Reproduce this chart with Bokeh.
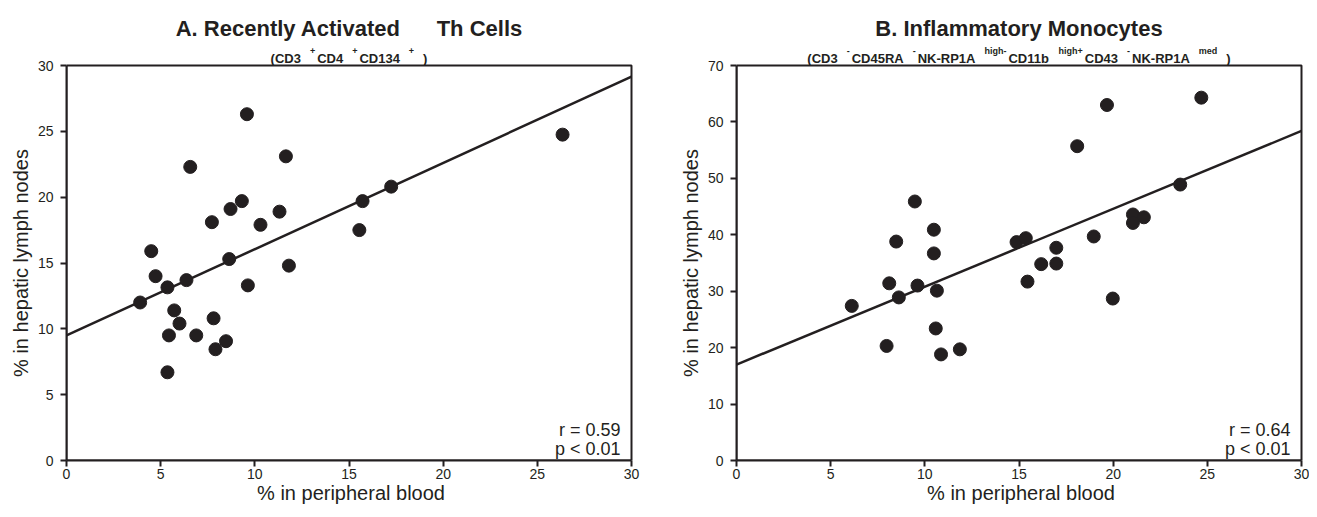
from bokeh.plotting import figure
from bokeh.layouts import row
from bokeh.models import Range1d, FixedTicker, Label, Title
from bokeh.core.properties import value
from bokeh.embed import file_html
from bokeh.resources import INLINE

# ---------------- data ----------------
a_x = [9.58, 11.65, 6.57, 9.31, 8.71, 11.31, 7.72, 10.30, 4.50, 8.64, 11.81, 4.73, 6.37, 5.36,
       9.63, 3.91, 5.72, 6.00, 7.81, 5.44, 6.89, 8.47, 7.91, 5.36, 15.55, 15.72, 17.24, 26.34]
a_y = [26.3, 23.1, 22.3, 19.7, 19.1, 18.9, 18.1, 17.9, 15.9, 15.3, 14.8, 14.0, 13.7, 13.15,
       13.3, 12.0, 11.4, 10.4, 10.8, 9.5, 9.5, 9.06, 8.45, 6.7, 17.5, 19.7, 20.8, 24.75]

b_x = [19.67, 18.09, 9.47, 10.48, 8.48, 10.48, 14.87, 15.36, 18.97, 16.98, 16.18, 16.98, 15.45, 8.11,
       9.61, 10.64, 8.62, 6.12, 19.98, 10.58, 7.97, 11.86, 10.86, 24.68, 23.56, 21.05, 21.63, 21.05]
b_y = [63.0, 55.7, 45.9, 40.9, 38.8, 36.7, 38.7, 39.4, 39.7, 37.7, 34.8, 34.9, 31.7, 31.4,
       31.0, 30.1, 28.9, 27.4, 28.7, 23.4, 20.3, 19.7, 18.8, 64.3, 48.9, 43.6, 43.1, 42.1]

fit_x = [0, 30]
fit_a_y = [9.5, 29.15]
fit_b_y = [17.0, 58.4]

x_max = 30
a_y_max = 30
b_y_max = 70
x_ticks = [0, 5, 10, 15, 20, 25, 30]
a_y_ticks = [0, 5, 10, 15, 20, 25, 30]
b_y_ticks = [0, 10, 20, 30, 40, 50, 60, 70]

x_label = "% in peripheral blood"
y_label = "% in hepatic lymph nodes"
stats_a = ["r = 0.59", "p < 0.01"]
stats_b = ["r = 0.64", "p < 0.01"]

# title runs: (text, kind)  t = title, m = subtitle text, s = superscript, gap = wide space
title_a = [("A. Recently Activated", "t"), ("", "gap"), ("Th Cells", "t")]
sub_a = [("(CD3", "m"), ("+", "s"), ("CD4", "m"), ("+", "s"), ("CD134", "m"), ("+", "s"), (")", "m")]
title_b = [("B. Inflammatory Monocytes", "t")]
sub_b = [("(CD3", "m"), ("-", "s"), ("CD45RA", "m"), ("-", "s"), ("NK-RP1A", "m"), ("high-", "s"),
         ("CD11b", "m"), ("high+", "s"), ("CD43", "m"), ("-", "s"), ("NK-RP1A", "m"), ("med", "s"), (")", "m")]

INK = "#231f20"
FONT = "Liberation Sans"

# Arial bold advance widths (per 1000 em)
W = {" ": 278, "(": 333, ")": 333, "+": 584, "-": 333, ".": 278, "A": 722, "B": 722, "C": 722,
     "D": 722, "I": 278, "K": 722, "M": 833, "N": 722, "P": 667, "R": 722, "T": 611, "a": 556,
     "b": 611, "c": 556, "d": 611, "e": 556, "f": 333, "g": 611, "h": 611, "i": 278, "l": 278,
     "m": 889, "n": 611, "o": 611, "r": 389, "s": 556, "t": 333, "v": 556, "y": 556}
# Arial regular advance widths (per 1000 em)
WR = {"%": 889, " ": 278, "i": 222, "n": 556, "h": 556, "e": 556, "p": 556, "a": 556, "t": 278,
      "c": 500, "l": 222, "y": 500, "m": 833, "o": 556, "d": 556, "s": 500}


def tw(s, size, table=W):
    return sum(table.get(c, 556) for c in s) * size / 1000.0


BOX_W, BOX_H = 565, 395      # plotting box in pixels
TOP_PX = 65                  # space above the box (titles live here, inside the frame)
EXTRA_W = 4                  # a few px right of the box so its right edge is fully drawn
SIZES = {"t": 22, "m": 13, "s": 9}
TITLE_BASE = 28              # px from top
SUB_BASE = 58
SUP_BASE = 50
AXIS_LABEL_SIZE = 20


def add_runs(p, runs, sx, sy, y_base_px, y_sup_px, gap_main, gap_sup):
    items = []
    total = 0.0
    prev = None
    for txt, kind in runs:
        if kind == "gap":
            total += 36
            continue
        if prev is not None:
            if kind == "s":
                total += gap_main
            elif prev == "s":
                total += gap_main if txt == ")" else gap_sup
        items.append((txt, kind, total))
        total += tw(txt, SIZES[kind])
        prev = kind
    x0 = BOX_W / 2.0 - total / 2.0
    for kind in ("t", "m", "s"):
        sel = [it for it in items if it[1] == kind]
        if not sel:
            continue
        ypx = y_sup_px if kind == "s" else y_base_px
        yd = (TOP_PX + BOX_H - ypx) / sy
        p.text(x=[(x0 + it[2]) / sx for it in sel], y=[yd] * len(sel),
               text=[it[0] for it in sel], text_font=value(FONT),
               text_font_size=f"{SIZES[kind]}px", text_font_style="bold", text_color=INK,
               text_align="left", text_baseline="alphabetic")


def make(xs, ys, fy, yticks, ymax, stats, title, sub, left, right):
    sx = BOX_W / x_max          # px per x unit
    sy = BOX_H / ymax           # px per y unit
    p = figure(frame_width=BOX_W + EXTRA_W, frame_height=TOP_PX + BOX_H,
               output_backend="svg", toolbar_location=None,
               x_range=Range1d(0, (BOX_W + EXTRA_W) / sx),
               y_range=Range1d(0, (TOP_PX + BOX_H) / sy),
               min_border_left=left, min_border_right=right, min_border_top=0, min_border_bottom=44,
               background_fill_color="white", border_fill_color="white")
    p.outline_line_color = None
    p.grid.visible = False
    p.xaxis.ticker = FixedTicker(ticks=x_ticks)
    p.yaxis.ticker = FixedTicker(ticks=yticks)
    p.xaxis.bounds = (0, x_max)
    p.yaxis.bounds = (0, ymax)
    for ax in (p.xaxis[0], p.yaxis[0]):
        ax.axis_line_color = INK
        ax.axis_line_width = 2
        ax.major_tick_line_color = INK
        ax.major_tick_line_width = 2
        ax.major_tick_out = 6
        ax.major_tick_in = 0
        ax.minor_tick_line_color = None
        ax.major_label_text_font = FONT
        ax.major_label_text_font_size = "14px"
        ax.major_label_text_color = INK
        ax.axis_label_text_font = FONT
        ax.axis_label_text_font_size = f"{AXIS_LABEL_SIZE}px"
        ax.axis_label_text_font_style = "normal"
        ax.axis_label_text_color = INK
    p.xaxis.axis_label = x_label
    p.xaxis.major_label_standoff = 2
    p.yaxis.major_label_standoff = 7
    p.xaxis.axis_label_standoff = 0
    # y label as a left-side title, centred on the plotting box (not on the taller frame)
    half_len = tw(y_label, AXIS_LABEL_SIZE, WR) / 2.0
    p.add_layout(Title(text=y_label, align="left", offset=BOX_H / 2.0 - half_len, standoff=5,
                       text_font=FONT, text_font_size=f"{AXIS_LABEL_SIZE}px",
                       text_font_style="normal", text_color=INK), "left")
    # plot box (top and right edges; left/bottom coincide with the axes)
    p.quad(left=[0], right=[x_max], bottom=[0], top=[ymax], fill_color=None,
           line_color=INK, line_width=2)
    p.line(fit_x, fy, line_color=INK, line_width=2.5)
    p.scatter(xs, ys, size=13, fill_color=INK, line_color=INK)
    add_runs(p, title, sx, sy, TITLE_BASE, TITLE_BASE, 0, 0)
    add_runs(p, sub, sx, sy, SUB_BASE, SUP_BASE, 9, 2)
    p.add_layout(Label(x=BOX_W - 11, y=31, x_units="screen", y_units="screen", text=stats[0],
                       text_font=FONT, text_font_size="18px", text_color=INK,
                       text_align="right", text_baseline="alphabetic"))
    p.add_layout(Label(x=BOX_W - 11, y=12, x_units="screen", y_units="screen", text=stats[1],
                       text_font=FONT, text_font_size="18px", text_color=INK,
                       text_align="right", text_baseline="alphabetic"))
    return p


pa = make(a_x, a_y, fit_a_y, a_y_ticks, a_y_max, stats_a, title_a, sub_a, 66, 37 - EXTRA_W)
pb = make(b_x, b_y, fit_b_y, b_y_ticks, b_y_max, stats_b, title_b, sub_b, 68, 8 - EXTRA_W)

layout = row(pa, pb)
open("out.html", "w").write(file_html(layout, INLINE))
